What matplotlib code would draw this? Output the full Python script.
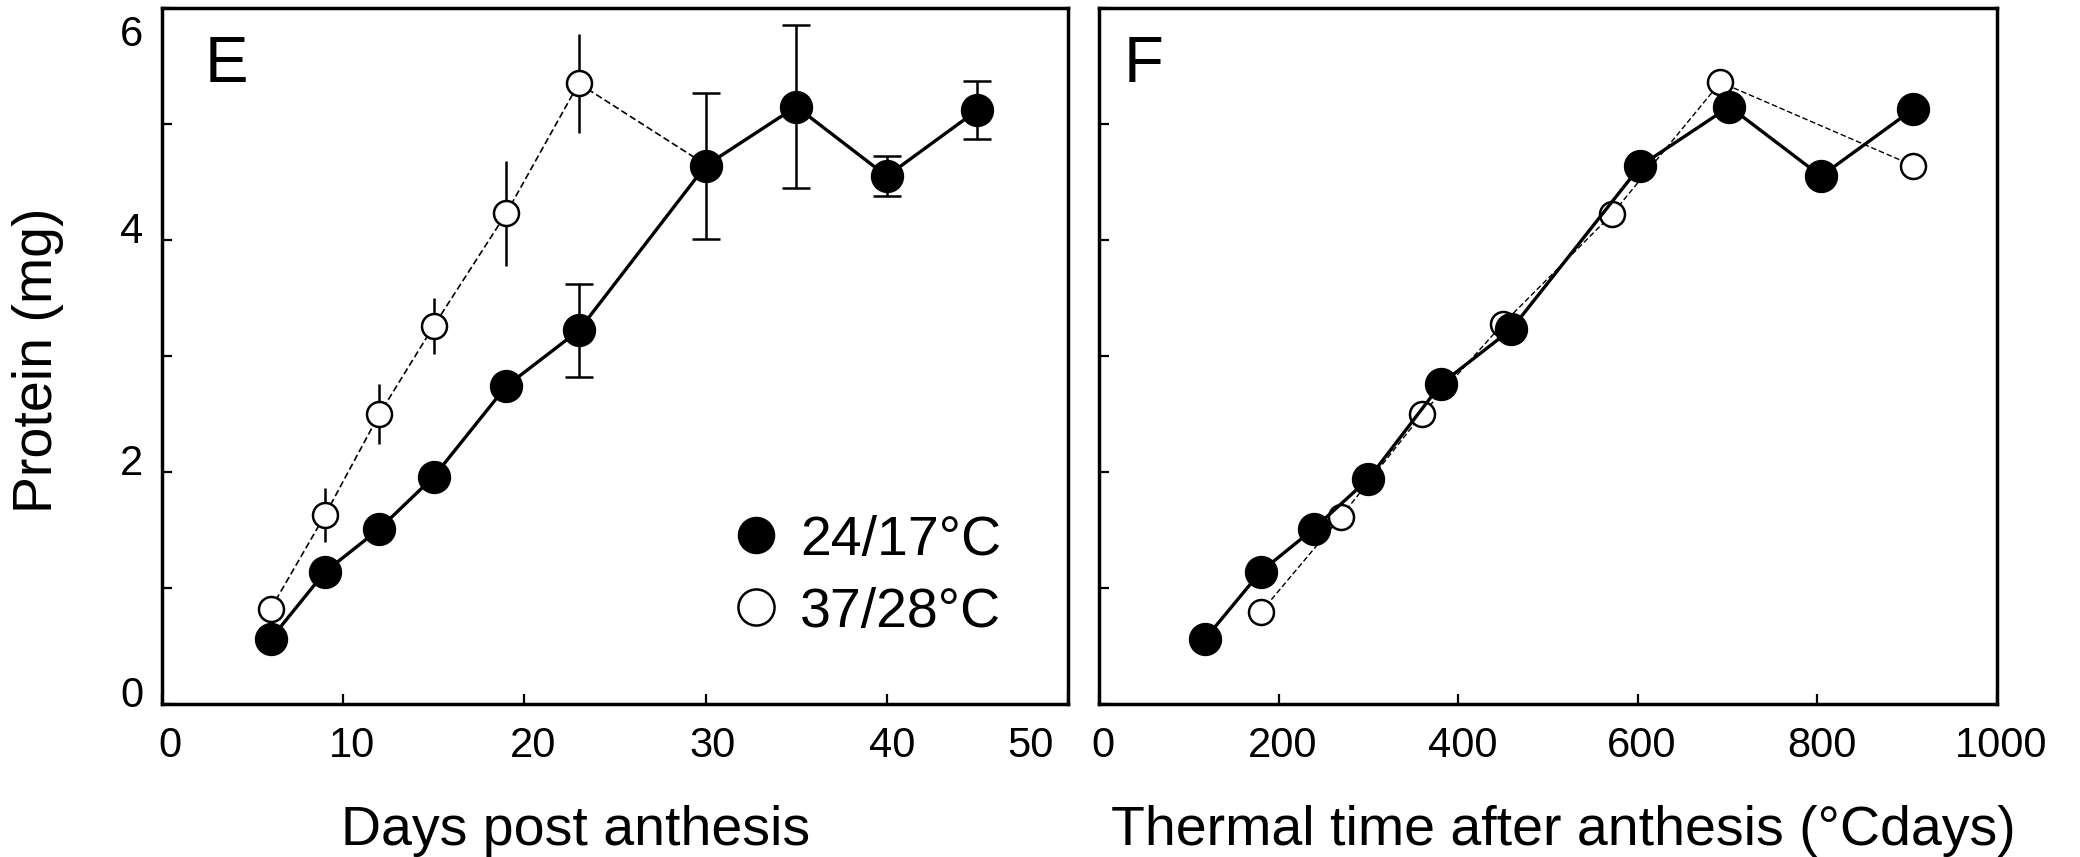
import matplotlib
matplotlib.use("Agg")
import matplotlib.pyplot as plt
from matplotlib.transforms import ScaledTranslation
from matplotlib.lines import Line2D

plt.rcParams['font.family'] = ['Liberation Sans', 'DejaVu Sans']

# ---- Data (panel E: days post anthesis) ----
days_cool = [6, 9, 12, 15, 19, 23, 30, 35, 40, 45]
prot_cool = [0.56, 1.14, 1.51, 1.96, 2.74, 3.22, 4.64, 5.15, 4.55, 5.12]
err_cool = [0.05, 0.05, 0.05, 0.05, 0.05, 0.40, 0.63, 0.70, 0.17, 0.25]

days_hot = [6, 9, 12, 15, 19, 23, 30]
prot_hot = [0.82, 1.63, 2.50, 3.26, 4.23, 5.35, 4.65]
err_hot = [0.10, 0.23, 0.26, 0.24, 0.45, 0.43, 0.05]

# ---- Data (panel F: thermal time) ----
tt_cool = [118, 180, 239, 300, 381, 459, 603, 702, 804, 907]
tt_prot_cool = [0.56, 1.14, 1.51, 1.94, 2.76, 3.23, 4.64, 5.15, 4.55, 5.13]

tt_hot = [180, 269, 360, 450, 571, 692, 907]
tt_prot_hot = [0.79, 1.61, 2.50, 3.28, 4.22, 5.36, 4.64]

legend_labels = ['24/17°C', '37/28°C']
panel_labels = ['E', 'F']
xlabels = ['Days post anthesis', 'Thermal time after anthesis (°Cdays)']
ylabel = 'Protein (mg)'
xticks_E = [0, 10, 20, 30, 40, 50]
xticks_F = [0, 200, 400, 600, 800, 1000]
yticks = [0, 1, 2, 3, 4, 5, 6]
ytick_labels = ['0', '', '2', '', '4', '', '6']

W, H = 2080, 857
fig = plt.figure(figsize=(W / 100, H / 100), dpi=100)
axE = fig.add_axes([162 / W, 1 - 704 / H, (1068 - 162) / W, (704 - 8) / H])
axF = fig.add_axes([1099 / W, 1 - 704 / H, (1997 - 1099) / W, (704 - 8) / H])

FILL_MS = 23
OPEN_MS = 18

# Panel E
axE.errorbar(days_hot, prot_hot, yerr=err_hot, fmt='o', color='black', mfc='white',
             mec='black', ms=OPEN_MS, mew=1.8, ls=(0, (4, 2)), lw=1.2,
             elinewidth=1.8, capsize=0, zorder=2)
axE.errorbar(days_cool, prot_cool, yerr=err_cool, fmt='o', color='black', mfc='black',
             mec='black', ms=FILL_MS, ls='-', lw=2.4, elinewidth=1.8,
             capsize=10, capthick=1.8, zorder=3)

# Panel F
axF.plot(tt_hot, tt_prot_hot, marker='o', color='black', mfc='white', mec='black',
         ms=OPEN_MS, mew=1.8, ls=(0, (4, 2)), lw=1.0, zorder=2)
axF.plot(tt_cool, tt_prot_cool, marker='o', color='black', mfc='black', mec='black',
         ms=FILL_MS, ls='-', lw=2.4, zorder=3)

for ax, xt in [(axE, xticks_E), (axF, xticks_F)]:
    ax.set_ylim(0, 6)
    ax.set_xlim(xt[0], xt[-1])
    ax.set_xticks(xt)
    ax.set_yticks(yticks)
    for s in ax.spines.values():
        s.set_linewidth(2.5)
    ax.tick_params(direction='in', length=7, width=1.6, labelsize=30)
    ax.tick_params(axis='x', pad=16)
    ax.tick_params(axis='y', pad=13.5)

axE.set_yticklabels(ytick_labels)
axF.set_yticklabels([])
axE.set_xticklabels([str(v) for v in xticks_E])
axF.set_xticklabels([str(v) for v in xticks_F])

# small label offsets as in the reference
offE = [6, 6, 6, 5, 4, -27]
for t, dx in zip(axE.get_xticklabels(), offE):
    t.set_transform(t.get_transform() + ScaledTranslation(dx / 72, 0, fig.dpi_scale_trans))
for t in axF.get_xticklabels():
    t.set_transform(t.get_transform() + ScaledTranslation(3 / 72, 0, fig.dpi_scale_trans))
offY = [9, 0, 9, 0, 9, 0, -16]
for t, dy in zip(axE.get_yticklabels(), offY):
    t.set_transform(t.get_transform() + ScaledTranslation(0, dy / 72, fig.dpi_scale_trans))

# panel letters
axE.text(0.047, 0.8937, panel_labels[0], transform=axE.transAxes, fontsize=47, va='baseline')
axF.text(0.027, 0.8937, panel_labels[1], transform=axF.transAxes, fontsize=47, va='baseline')

# axis labels
axE.set_ylabel(ylabel, fontsize=40)
axE.yaxis.set_label_coords(-0.108, 0.494)
axE.set_xlabel(xlabels[0], fontsize=40, va='baseline')
axE.xaxis.set_label_coords(0.456, -0.2026)
axF.set_xlabel(xlabels[1], fontsize=40, va='baseline')
axF.xaxis.set_label_coords(0.5167, -0.2026)

# legend
handles = [Line2D([], [], marker='o', ls='none', mfc='black', mec='black', ms=26),
           Line2D([], [], marker='o', ls='none', mfc='white', mec='black', mew=1.8, ms=26)]
axE.legend(handles, legend_labels, loc='upper left', bbox_to_anchor=(0.625, 0.272),
           frameon=False, fontsize=40, borderpad=0, borderaxespad=0, handlelength=1.0,
           handletextpad=0.29, labelspacing=0.36)

fig.savefig('out.png', dpi=100)
